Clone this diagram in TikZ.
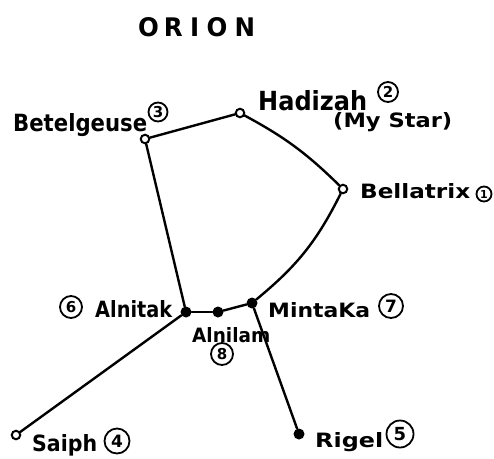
\documentclass[tikz,border=0pt]{standalone}
\usepackage{fontspec}
\setmainfont{DejaVu Sans}
\usepackage{graphicx}
\newcommand\hw[3]{\resizebox{#1pt}{#2pt}{\bfseries #3}}
\tikzset{
  lbl/.style={anchor=base west, inner sep=0pt},
  ostar/.style={circle, draw, line width=2pt, minimum size=8.5pt, inner sep=0pt},
  fstar/.style={circle, fill, minimum size=11pt, inner sep=0pt},
  num/.style={circle, draw, line width=1.8pt, inner sep=0pt, minimum size=#1pt,
    font=\bfseries\fontsize{15}{15}\selectfont},
  con/.style={line width=2.4pt, line cap=round},
}
\begin{document}
\begin{tikzpicture}[x=1pt,y=-1pt]
\useasboundingbox[fill=white] (0,0) rectangle (494,458);

% title
\node[lbl] (title) at (138,36) {\hw{117}{19}{O\hspace{2pt}R\hspace{3pt}I\hspace{3pt}O\hspace{3pt}N}};

% stars
\node[ostar] (bet) at (145,139) {};
\node[ostar] (had) at (240,113) {};
\node[ostar] (bel) at (343,189) {};
\node[fstar] (alk) at (186,312) {};
\node[fstar] (alm) at (218,312) {};
\node[fstar] (mint) at (252,303) {};
\node[ostar] (sai) at (16,435) {};
\node[fstar] (rig) at (299,434) {};

% connectors
\draw[con] (bet) -- (had);
\draw[con] (had) to[bend left=8] (bel);
\draw[con] (bel) to[bend left=12] (mint);
\draw[con] (mint) -- (alm);
\draw[con] (alm) -- (alk);
\draw[con] (alk) -- (bet);
\draw[con] (alk) -- (sai);
\draw[con] (mint) -- (rig);

% labels
\node[lbl] (lbet) at (13,131) {\hw{134}{18}{Betelgeuse}};
\node[num=19] (n3) at (158,112) {3};
\node[lbl] (lhad) at (258,110) {\hw{109}{20}{Hadizah}};
\node[num=20] (n2) at (388,92) {2};
\node[lbl] (lmy) at (333,127) {\hw{119}{15}{(My Star)}};
\node[lbl] (lbel) at (360,198) {\hw{110}{15}{Bellatrix}};
\node[num=15, font=\bfseries\fontsize{11}{11}\selectfont] (n1) at (484,194) {1};
\node[lbl] (lmint) at (268,317) {\hw{102}{15}{MintaKa}};
\node[num=24, font=\bfseries\fontsize{17}{17}\selectfont] (n7) at (391,306) {7};
\node[lbl] (lalk) at (95,317) {\hw{77}{17}{Alnitak}};
\node[num=22] (n6) at (71,307) {6};
\node[lbl] (lalm) at (192,342) {\hw{78}{15}{Alnilam}};
\node[num=22] (n8) at (222,354) {8};
\node[lbl] (lsai) at (32,451) {\hw{65}{17}{Saiph}};
\node[num=25, font=\bfseries\fontsize{17}{17}\selectfont] (n4) at (117,441) {4};
\node[lbl] (lrig) at (315,447) {\hw{68}{15}{Rigel}};
\node[num=27, font=\bfseries\fontsize{18}{18}\selectfont] (n5) at (400,434) {5};
\end{tikzpicture}
\end{document}
